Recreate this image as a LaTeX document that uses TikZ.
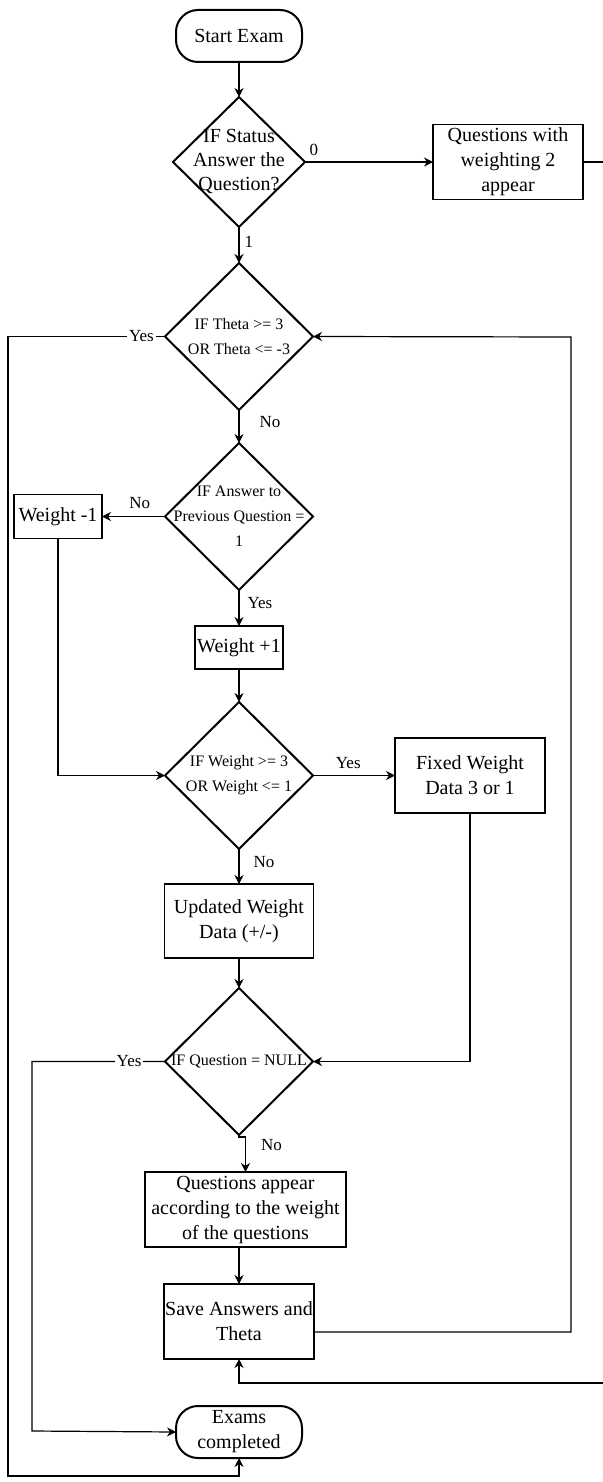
\documentclass[tikz,border=0pt]{standalone}
\usepackage{fontspec}
\setmainfont{Liberation Serif}
\usetikzlibrary{arrows.meta,shapes.geometric,positioning}

\begin{document}
\begin{tikzpicture}[x=0.5pt, y=-0.5pt, >={Stealth[length=4.5pt,width=4.5pt]}]
% STYLES
\tikzset{
    terminal/.style={rectangle, rounded corners=11pt, draw, line width=1pt, align=center,
    minimum width=63pt, minimum height=26pt, inner sep=0pt, outer sep=0pt,
    font=\fontsize{10}{12.5}\selectfont},
    decision/.style={diamond, draw, line width=1pt, minimum width=74pt,
    minimum height=73.5pt, inner sep=0pt, outer sep=0pt},
    dtext/.style={align=center, inner sep=0pt, font=\fontsize{8}{12.5}\selectfont},
    process/.style={rectangle, draw, line width=0.75pt, align=center, inner sep=0.5pt,
    outer sep=0pt, minimum height=37.5pt, minimum width=75pt,
    font=\fontsize{10}{12.5}\selectfont},
    lbl/.style={inner sep=1pt, font=\fontsize{8.5}{10}\selectfont},
    link/.style={->, line width=0.6pt}
}
\useasboundingbox (0,0) rectangle (603,1482);

\node [terminal] (start) at (239,36) {Start Exam};
\node [decision, minimum width=66pt, minimum height=65pt, below=17.5pt of start,
  label={[dtext, font=\fontsize{10}{12}\selectfont]center:IF Status\\Answer the\\Question?}] (status) {};
\node [process, right=64pt of status] (weight2) {Questions with\\weighting 2\\appear};
\node [decision, below=18pt of status,
  label={[dtext]center:IF Theta >= 3\\OR Theta <= -3}] (theta) {};
\node [decision, below=16.5pt of theta,
  label={[dtext]center:IF Answer to\\Previous Question =\\1}] (prev) {};
\node [process, minimum width=44pt, minimum height=22pt, left=31.5pt of prev] (minus) {Weight -1};
\node [process, minimum width=44pt, minimum height=21.5pt, below=18pt of prev] (plus) {Weight +1};
\node [decision, below=16.5pt of plus,
  label={[dtext]center:IF Weight >= 3\\OR Weight <= 1}] (wcheck) {};
\node [process, right=41pt of wcheck] (fixed) {Fixed Weight\\Data 3 or 1};
\node [process, minimum width=74.5pt, minimum height=37pt, below=17.5pt of wcheck] (updated) {Updated Weight\\Data (+/-)};
\node [decision, below=15pt of updated,
  label={[dtext]center:IF Question = NULL}] (qnull) {};
\node [process, minimum width=100.5pt, below=18.5pt of qnull, xshift=3.25pt] (appear) {Questions appear\\according to the weight\\of the questions};
\node [process, below=18.5pt of appear, xshift=-3.25pt] (save) {Save Answers and\\Theta};
\node [terminal, below=23.5pt of save] (finish) {Exams\\completed};

% loop corners
\coordinate (outerL) at (8,1476);
\coordinate (innerL) at (32,1431);
\coordinate (loopR) at (571,337);
\coordinate (farR) at (612,1383);

% Draw the links
\draw[link] (start) -- (status);
\draw[link] (status) -- node[lbl, right, pos=0.4, xshift=1.5pt] {1} (theta);
\draw[link] (status) -- node[lbl, above, pos=0.07, yshift=2pt] {0} (weight2);
\draw[link] (weight2.east) -| (farR) -| (save.south);
\draw[link] (theta) -- node[lbl, right, pos=0.36, xshift=9pt] {No} (prev);
\draw[link] (theta.west) -- node[lbl, fill=white, pos=0.15] {Yes} (theta.west -| outerL) -- (outerL) -| (finish.south);
\draw[link] (prev) -- node[lbl, above, pos=0.4, yshift=2.5pt] {No} (minus);
\draw[link] (prev) -- node[lbl, right, pos=0.36, xshift=3pt] {Yes} (plus);
\draw[link] (plus) -- (wcheck);
\draw[link] (minus) |- (wcheck);
\draw[link] (wcheck) -- node[lbl, above, pos=0.43, yshift=2pt] {Yes} (fixed);
\draw[link] (wcheck) -- node[lbl, right, pos=0.37, xshift=6pt] {No} (updated);
\draw[link] (updated) -- (qnull);
\draw[link] (fixed) |- (qnull);
\draw[link] (qnull.south) -- ++(0,2) -| node[lbl, right, pos=0.62, xshift=6.5pt] {No} (appear.north);
\draw[link] (qnull.west) -- node[lbl, fill=white, pos=0.27] {Yes} (qnull.west -| innerL) -- (innerL) -- (finish.west);
\draw[link] (save.north |- appear.south) -- (save.north);
\draw[link] ([yshift=-5.25pt]save.east) -| (loopR) -- (theta.east);
\end{tikzpicture}
\end{document}
